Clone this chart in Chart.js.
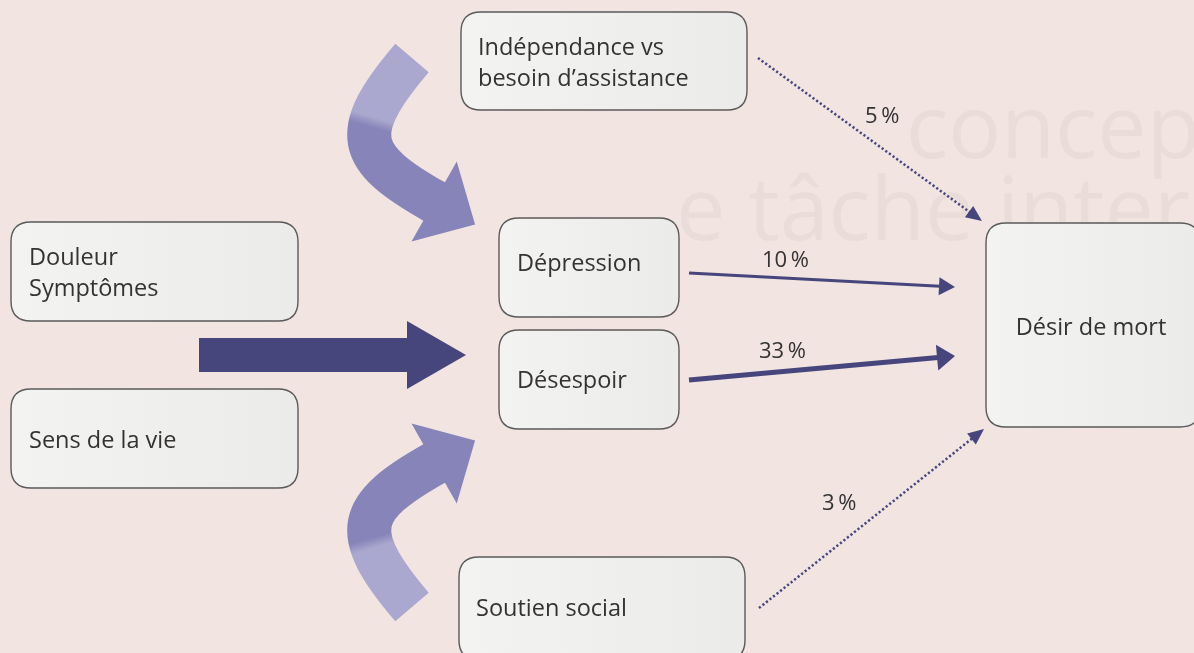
<!DOCTYPE html>
<html lang="fr">
<head>
<meta charset="utf-8">
<title>Désir de mort</title>
<script src="https://cdn.jsdelivr.net/npm/chart.js@4.4.1/dist/chart.umd.min.js"></script>
<style>
  html, body { margin: 0; padding: 0; background: #f1e4e1; }
  #wrap { width: 1194px; height: 653px; }
</style>
</head>
<body>
<div id="wrap"><canvas id="diagram" width="1194" height="653"></canvas></div>
<script>
// --- data ---
const factorLabels = ['Indépendance vs\nbesoin d’assistance', 'Douleur\nSymptômes', 'Sens de la vie', 'Soutien social'];
const mediatorLabels = ['Dépression', 'Désespoir'];
const outcomeLabel = 'Désir de mort';
const linkFrom = ['Indépendance vs\nbesoin d’assistance', 'Dépression', 'Désespoir', 'Soutien social'];
const linkPercent = [5, 10, 33, 3];

// --- layout (axis units = pixels of the original figure) ---
const boxLayout = {
    'Indépendance vs\nbesoin d’assistance': { x0: 461, y0: 12, x1: 747, y1: 110, tx: 478, ty: 55 },
    'Douleur\nSymptômes': { x0: 11, y0: 222, x1: 298, y1: 321, tx: 29, ty: 265 },
    'Sens de la vie': { x0: 11, y0: 389, x1: 298, y1: 488, tx: 29, ty: 448 },
    'Soutien social': { x0: 459, y0: 557, x1: 745, y1: 660, tx: 476, ty: 616 },
    'Dépression': { x0: 499, y0: 218, x1: 679, y1: 317, tx: 517, ty: 271 },
    'Désespoir': { x0: 499, y0: 330, x1: 679, y1: 429, tx: 517, ty: 388 },
    'Désir de mort': { x0: 986, y0: 223, x1: 1200, y1: 427, tx: 1091, ty: 335, center: true }
};
const linkLayout = {
    'Indépendance vs\nbesoin d’assistance': { from: [758, 58], to: [982, 221], label: [865, 123] },
    'Dépression': { from: [689, 273], to: [955, 287], label: [762, 267] },
    'Désespoir': { from: [689, 380], to: [955, 356], label: [759, 358] },
    'Soutien social': { from: [759, 608], to: [984, 429], label: [822, 510] }
};
const curveLayout = { p0: [412, 58], p1: [347, 134], p2: [357, 158], p3: [435, 202], width: 44, headHalf: 46, headLen: 46, mirror: 665 };
const bigArrowLayout = { x0: 199, x1: 407, tip: 466, yTop: 338, yBot: 372, headTop: 321, headBot: 389 };

const ink = '#47467c';
const textColor = '#343232';
const fontFamily = '"Open Sans", "Noto Sans", sans-serif';

function linkStyle(p) {
    if (p >= 30) return { width: 5, dash: [], headLen: 18, headHalf: 13 };
    if (p >= 10) return { width: 3, dash: [], headLen: 16, headHalf: 9 };
    return { width: 2.5, dash: [2.2, 2.3], headLen: 16, headHalf: 7 };
}

// link lines become datasets (line shortened to the arrowhead base)
const linkDatasets = linkFrom.map((name, i) => {
    const L = linkLayout[name];
    const st = linkStyle(linkPercent[i]);
    const dx = L.to[0] - L.from[0], dy = L.to[1] - L.from[1];
    const len = Math.hypot(dx, dy);
    const k = (len - st.headLen + 1) / len;
    return {
        label: name + ' → ' + outcomeLabel,
        data: [{ x: L.from[0], y: L.from[1] }, { x: L.from[0] + dx * k, y: L.from[1] + dy * k }],
        showLine: true,
        borderColor: ink,
        borderWidth: st.width,
        borderDash: st.dash,
        borderCapStyle: 'butt',
        pointRadius: 0
    };
});

function roundRect(ctx, x0, y0, x1, y1, r) {
    ctx.beginPath();
    ctx.moveTo(x0 + r, y0);
    ctx.lineTo(x1 - r, y0);
    ctx.quadraticCurveTo(x1, y0, x1, y0 + r);
    ctx.lineTo(x1, y1 - r);
    ctx.quadraticCurveTo(x1, y1, x1 - r, y1);
    ctx.lineTo(x0 + r, y1);
    ctx.quadraticCurveTo(x0, y1, x0, y1 - r);
    ctx.lineTo(x0, y0 + r);
    ctx.quadraticCurveTo(x0, y0, x0 + r, y0);
    ctx.closePath();
}

function drawCurved(ctx, sx, sy, flip) {
    const c = curveLayout;
    const fy = y => flip ? c.mirror - y : y;
    const P = [c.p0, c.p1, c.p2, c.p3].map(p => [sx(p[0]), sy(fy(p[1]))]);
    const g = ctx.createLinearGradient(sx(374), sy(fy(117)), sx(371), sy(fy(127)));
    g.addColorStop(0, '#aba8cf');
    g.addColorStop(1, '#8784b9');
    ctx.save();
    ctx.strokeStyle = g;
    ctx.lineWidth = c.width;
    ctx.lineCap = 'butt';
    ctx.beginPath();
    ctx.moveTo(P[0][0], P[0][1]);
    ctx.bezierCurveTo(P[1][0], P[1][1], P[2][0], P[2][1], P[3][0], P[3][1] + 0.01);
    ctx.stroke();
    const dx = P[3][0] - P[2][0], dy = P[3][1] - P[2][1];
    const L = Math.hypot(dx, dy), ux = dx / L, uy = dy / L;
    ctx.fillStyle = '#8784b9';
    ctx.beginPath();
    ctx.moveTo(P[3][0] - ux * 1 - uy * c.headHalf, P[3][1] - uy * 1 + ux * c.headHalf);
    ctx.lineTo(P[3][0] - ux * 1 + uy * c.headHalf, P[3][1] - uy * 1 - ux * c.headHalf);
    ctx.lineTo(P[3][0] + ux * c.headLen, P[3][1] + uy * c.headLen);
    ctx.closePath();
    ctx.fill();
    ctx.restore();
}

const diagramPlugin = {
    id: 'diagram',
    beforeDraw(chart) {
        const { ctx, scales: { x, y } } = chart;
        const sx = v => x.getPixelForValue(v), sy = v => y.getPixelForValue(v);
        ctx.save();
        ctx.fillStyle = '#f1e4e1';
        ctx.fillRect(0, 0, chart.width, chart.height);
        // faded heading of the printed page behind the figure
        ctx.fillStyle = 'rgba(120, 95, 95, 0.06)';
        ctx.font = '88px ' + fontFamily;
        ctx.textBaseline = 'alphabetic';
        ctx.fillText('conception d’un EMS est', sx(906), sy(158));
        ctx.fillText('e tâche interdisciplinaire', sx(676), sy(240));
        ctx.restore();

        drawCurved(ctx, sx, sy, false);
        drawCurved(ctx, sx, sy, true);

        const B = bigArrowLayout;
        ctx.save();
        ctx.fillStyle = ink;
        ctx.beginPath();
        ctx.moveTo(sx(B.x0), sy(B.yTop));
        ctx.lineTo(sx(B.x1), sy(B.yTop));
        ctx.lineTo(sx(B.x1), sy(B.headTop));
        ctx.lineTo(sx(B.tip), sy((B.headTop + B.headBot) / 2));
        ctx.lineTo(sx(B.x1), sy(B.headBot));
        ctx.lineTo(sx(B.x1), sy(B.yBot));
        ctx.lineTo(sx(B.x0), sy(B.yBot));
        ctx.closePath();
        ctx.fill();
        ctx.restore();

        // boxes
        const names = [...factorLabels, ...mediatorLabels, outcomeLabel];
        ctx.save();
        ctx.font = '23.5px ' + fontFamily;
        ctx.textBaseline = 'alphabetic';
        names.forEach(name => {
            const b = boxLayout[name];
            roundRect(ctx, sx(b.x0), sy(b.y0), sx(b.x1), sy(b.y1), 20);
            const g = ctx.createLinearGradient(sx(b.x0), 0, sx(b.x1), 0);
            g.addColorStop(0, '#f3f3f1');
            g.addColorStop(1, '#ebebe9');
            ctx.fillStyle = g;
            ctx.fill();
            ctx.lineWidth = 1.4;
            ctx.strokeStyle = '#5b5a5a';
            ctx.stroke();
            ctx.fillStyle = textColor;
            ctx.textAlign = b.center ? 'center' : 'left';
            name.split('\n').forEach((line, i) => {
                ctx.fillText(line, sx(b.tx), sy(b.ty + i * 31));
            });
        });
        ctx.restore();
    },
    afterDatasetsDraw(chart) {
        const { ctx, scales: { x, y } } = chart;
        const sx = v => x.getPixelForValue(v), sy = v => y.getPixelForValue(v);
        ctx.save();
        linkFrom.forEach((name, i) => {
            const L = linkLayout[name];
            const st = linkStyle(linkPercent[i]);
            const tx = sx(L.to[0]), ty = sy(L.to[1]);
            const dx = tx - sx(L.from[0]), dy = ty - sy(L.from[1]);
            const len = Math.hypot(dx, dy), ux = dx / len, uy = dy / len;
            const bx = tx - ux * st.headLen, by = ty - uy * st.headLen;
            ctx.fillStyle = ink;
            ctx.beginPath();
            ctx.moveTo(tx, ty);
            ctx.lineTo(bx - uy * st.headHalf, by + ux * st.headHalf);
            ctx.lineTo(bx + uy * st.headHalf, by - ux * st.headHalf);
            ctx.closePath();
            ctx.fill();

            ctx.fillStyle = textColor;
            ctx.font = '22px ' + fontFamily;
            ctx.textAlign = 'left';
            ctx.textBaseline = 'alphabetic';
            ctx.fillText(linkPercent[i] + '\u2009%', sx(L.label[0]), sy(L.label[1]));
        });
        ctx.restore();
    }
};

new Chart(document.getElementById('diagram'), {
    type: 'scatter',
    data: { datasets: linkDatasets },
    options: {
        responsive: false,
        animation: false,
        events: [],
        layout: { padding: 0 },
        plugins: { legend: { display: false }, tooltip: { enabled: false } },
        scales: {
            x: { type: 'linear', min: 0, max: 1194, display: false },
            y: { type: 'linear', min: 0, max: 653, reverse: true, display: false }
        }
    },
    plugins: [diagramPlugin]
});
</script>
</body>
</html>
